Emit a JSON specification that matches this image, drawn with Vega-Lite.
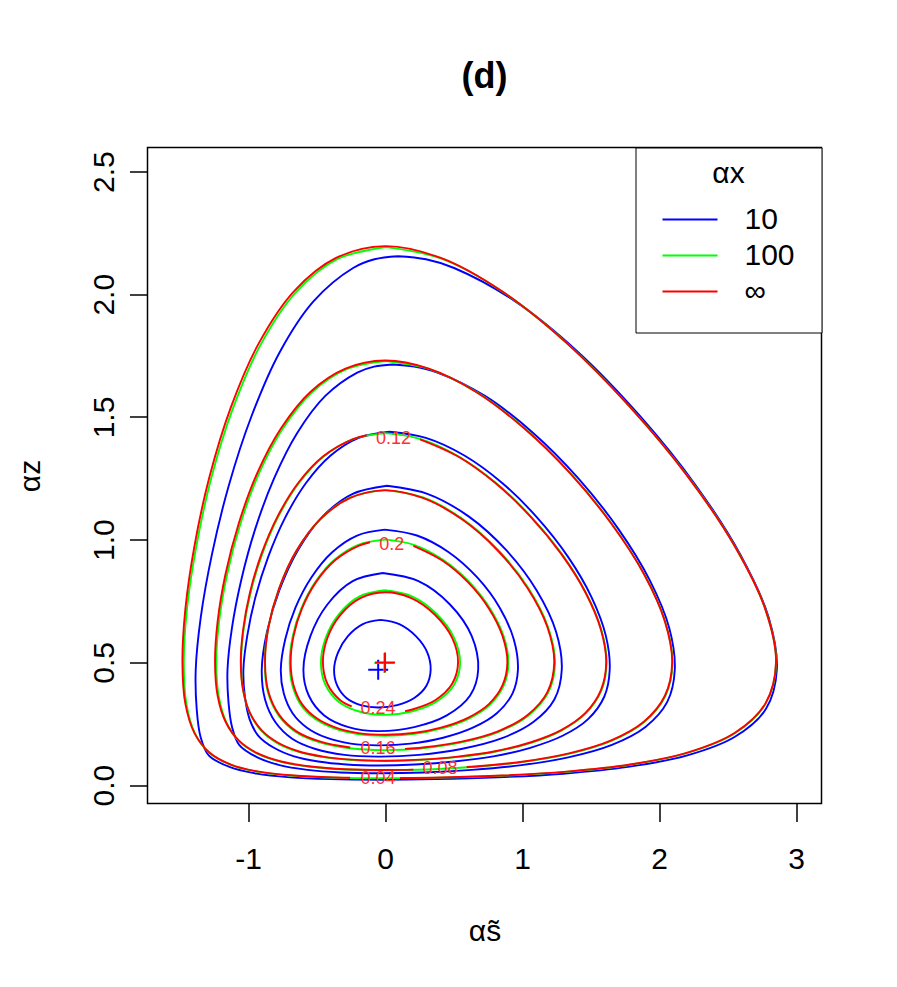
{
"$schema":"https://vega.github.io/schema/vega-lite/v6.json",
"width":674,"height":656,
"autosize":{"type":"none"},
"padding":{"left":147.5,"top":147.5,"right":75.5,"bottom":183.5},
"background":"white",
"title":{"text":"(d)","fontSize":36,"fontWeight":"bold","font":"Liberation Sans","anchor":"middle","baseline":"alphabetic","offset":23.5,"color":"black"},
"config":{
 "font":"Liberation Sans",
 "view":{"stroke":"black","strokeWidth":1.5},
 "axis":{"grid":false,"domain":false,"tickColor":"black","tickWidth":1.5,"tickSize":18,"labelFontSize":30,"labelColor":"black","titleFontSize":30,"titleFontWeight":"normal","titleColor":"black","labelFont":"Liberation Sans","titleFont":"Liberation Sans","labelOverlap":false,"labelFlush":false}
},
"datasets":{
"red":[
{"c":1,"i":0,"s":0.11,"z":0.0291},{"c":1,"i":1,"s":0.407,"z":0.0312},{"c":1,"i":2,"s":0.854,"z":0.0389},{"c":1,"i":3,"s":1.324,"z":0.0547},{"c":1,"i":4,"s":1.789,"z":0.0837},{"c":1,"i":5,"s":2.213,"z":0.133},{"c":1,"i":6,"s":2.554,"z":0.213},{"c":1,"i":7,"s":2.777,"z":0.333},{"c":1,"i":8,"s":2.854,"z":0.5},{"c":1,"i":9,"s":2.777,"z":0.715},{"c":1,"i":10,"s":2.554,"z":0.972},{"c":1,"i":11,"s":2.213,"z":1.255},{"c":1,"i":12,"s":1.789,"z":1.54},{"c":1,"i":13,"s":1.324,"z":1.802},{"c":1,"i":14,"s":0.854,"z":2.012},{"c":1,"i":15,"s":0.407,"z":2.148},{"c":1,"i":16,"s":0,"z":2.196},{"c":1,"i":17,"s":-0.358,"z":2.148},{"c":1,"i":18,"s":-0.665,"z":2.012},{"c":1,"i":19,"s":-0.92,"z":1.802},{"c":1,"i":20,"s":-1.125,"z":1.54},{"c":1,"i":21,"s":-1.282,"z":1.255},{"c":1,"i":22,"s":-1.392,"z":0.972},{"c":1,"i":23,"s":-1.458,"z":0.715},{"c":1,"i":24,"s":-1.479,"z":0.5},{"c":1,"i":25,"s":-1.458,"z":0.333},{"c":1,"i":26,"s":-1.392,"z":0.213},{"c":1,"i":27,"s":-1.282,"z":0.133},{"c":1,"i":28,"s":-1.125,"z":0.0837},{"c":1,"i":29,"s":-0.92,"z":0.0547},{"c":1,"i":30,"s":-0.665,"z":0.0389},{"c":1,"i":31,"s":-0.358,"z":0.0312},{"c":1,"i":32,"s":-0.255,"z":0.0302},
{"c":2,"i":0,"s":0.596,"z":0.0735},{"c":2,"i":1,"s":0.662,"z":0.076},{"c":2,"i":2,"s":1.013,"z":0.096},{"c":2,"i":3,"s":1.35,"z":0.13},{"c":2,"i":4,"s":1.651,"z":0.182},{"c":2,"i":5,"s":1.889,"z":0.258},{"c":2,"i":6,"s":2.043,"z":0.364},{"c":2,"i":7,"s":2.096,"z":0.5},{"c":2,"i":8,"s":2.043,"z":0.667},{"c":2,"i":9,"s":1.889,"z":0.861},{"c":2,"i":10,"s":1.651,"z":1.066},{"c":2,"i":11,"s":1.35,"z":1.271},{"c":2,"i":12,"s":1.013,"z":1.455},{"c":2,"i":13,"s":0.662,"z":1.603},{"c":2,"i":14,"s":0.319,"z":1.697},{"c":2,"i":15,"s":0,"z":1.73},{"c":2,"i":16,"s":-0.289,"z":1.697},{"c":2,"i":17,"s":-0.543,"z":1.603},{"c":2,"i":18,"s":-0.758,"z":1.455},{"c":2,"i":19,"s":-0.933,"z":1.271},{"c":2,"i":20,"s":-1.068,"z":1.066},{"c":2,"i":21,"s":-1.164,"z":0.861},{"c":2,"i":22,"s":-1.222,"z":0.667},{"c":2,"i":23,"s":-1.241,"z":0.5},{"c":2,"i":24,"s":-1.222,"z":0.364},{"c":2,"i":25,"s":-1.164,"z":0.258},{"c":2,"i":26,"s":-1.068,"z":0.182},{"c":2,"i":27,"s":-0.933,"z":0.13},{"c":2,"i":28,"s":-0.758,"z":0.096},{"c":2,"i":29,"s":-0.543,"z":0.076},{"c":2,"i":30,"s":-0.289,"z":0.0648},{"c":2,"i":31,"s":0,"z":0.0615},{"c":2,"i":32,"s":0.207,"z":0.0629},
{"c":3,"i":0,"s":0.255,"z":1.409},{"c":3,"i":1,"s":0.53,"z":1.34},{"c":3,"i":2,"s":0.803,"z":1.232},{"c":3,"i":3,"s":1.06,"z":1.095},{"c":3,"i":4,"s":1.286,"z":0.942},{"c":3,"i":5,"s":1.463,"z":0.785},{"c":3,"i":6,"s":1.576,"z":0.633},{"c":3,"i":7,"s":1.6145,"z":0.5},{"c":3,"i":8,"s":1.576,"z":0.387},{"c":3,"i":9,"s":1.463,"z":0.294},{"c":3,"i":10,"s":1.286,"z":0.224},{"c":3,"i":11,"s":1.06,"z":0.1735},{"c":3,"i":12,"s":0.803,"z":0.138},{"c":3,"i":13,"s":0.53,"z":0.116},{"c":3,"i":14,"s":0.256,"z":0.1036},{"c":3,"i":15,"s":0,"z":0.0995},{"c":3,"i":16,"s":-0.238,"z":0.1036},{"c":3,"i":17,"s":-0.451,"z":0.116},{"c":3,"i":18,"s":-0.633,"z":0.138},{"c":3,"i":19,"s":-0.784,"z":0.1735},{"c":3,"i":20,"s":-0.902,"z":0.224},{"c":3,"i":21,"s":-0.986,"z":0.294},{"c":3,"i":22,"s":-1.036,"z":0.387},{"c":3,"i":23,"s":-1.053,"z":0.5},{"c":3,"i":24,"s":-1.036,"z":0.633},{"c":3,"i":25,"s":-0.986,"z":0.785},{"c":3,"i":26,"s":-0.902,"z":0.942},{"c":3,"i":27,"s":-0.784,"z":1.095},{"c":3,"i":28,"s":-0.633,"z":1.232},{"c":3,"i":29,"s":-0.451,"z":1.34},{"c":3,"i":30,"s":-0.238,"z":1.409},{"c":3,"i":31,"s":-0.134,"z":1.4254},
{"c":4,"i":0,"s":0.146,"z":0.1476},{"c":4,"i":1,"s":0.275,"z":0.153},{"c":4,"i":2,"s":0.559,"z":0.177},{"c":4,"i":3,"s":0.824,"z":0.219},{"c":4,"i":4,"s":1.041,"z":0.286},{"c":4,"i":5,"s":1.185,"z":0.379},{"c":4,"i":6,"s":1.235,"z":0.5},{"c":4,"i":7,"s":1.185,"z":0.644},{"c":4,"i":8,"s":1.041,"z":0.802},{"c":4,"i":9,"s":0.824,"z":0.955},{"c":4,"i":10,"s":0.559,"z":1.084},{"c":4,"i":11,"s":0.275,"z":1.17},{"c":4,"i":12,"s":0,"z":1.201},{"c":4,"i":13,"s":-0.254,"z":1.17},{"c":4,"i":14,"s":-0.472,"z":1.084},{"c":4,"i":15,"s":-0.647,"z":0.955},{"c":4,"i":16,"s":-0.773,"z":0.802},{"c":4,"i":17,"s":-0.851,"z":0.644},{"c":4,"i":18,"s":-0.876,"z":0.5},{"c":4,"i":19,"s":-0.851,"z":0.379},{"c":4,"i":20,"s":-0.773,"z":0.286},{"c":4,"i":21,"s":-0.647,"z":0.219},{"c":4,"i":22,"s":-0.472,"z":0.177},{"c":4,"i":23,"s":-0.254,"z":0.153},
{"c":5,"i":0,"s":0.207,"z":0.975},{"c":5,"i":1,"s":0.415,"z":0.916},{"c":5,"i":2,"s":0.605,"z":0.827},{"c":5,"i":3,"s":0.758,"z":0.72},{"c":5,"i":4,"s":0.858,"z":0.607},{"c":5,"i":5,"s":0.893,"z":0.5},{"c":5,"i":6,"s":0.858,"z":0.407},{"c":5,"i":7,"s":0.758,"z":0.33},{"c":5,"i":8,"s":0.605,"z":0.274},{"c":5,"i":9,"s":0.415,"z":0.235},{"c":5,"i":10,"s":0.207,"z":0.212},{"c":5,"i":11,"s":0,"z":0.205},{"c":5,"i":12,"s":-0.194,"z":0.212},{"c":5,"i":13,"s":-0.365,"z":0.235},{"c":5,"i":14,"s":-0.504,"z":0.274},{"c":5,"i":15,"s":-0.606,"z":0.33},{"c":5,"i":16,"s":-0.668,"z":0.407},{"c":5,"i":17,"s":-0.689,"z":0.5},{"c":5,"i":18,"s":-0.668,"z":0.607},{"c":5,"i":19,"s":-0.606,"z":0.72},{"c":5,"i":20,"s":-0.504,"z":0.827},{"c":5,"i":21,"s":-0.365,"z":0.916},{"c":5,"i":22,"s":-0.194,"z":0.975},{"c":5,"i":23,"s":-0.109,"z":0.9894},
{"c":6,"i":0,"s":0.146,"z":0.3013},{"c":6,"i":1,"s":0.192,"z":0.307},{"c":6,"i":2,"s":0.366,"z":0.346},{"c":6,"i":3,"s":0.49,"z":0.413},{"c":6,"i":4,"s":0.533,"z":0.5},{"c":6,"i":5,"s":0.49,"z":0.5995},{"c":6,"i":6,"s":0.366,"z":0.693},{"c":6,"i":7,"s":0.192,"z":0.762},{"c":6,"i":8,"s":0,"z":0.786},{"c":6,"i":9,"s":-0.18,"z":0.762},{"c":6,"i":10,"s":-0.327,"z":0.693},{"c":6,"i":11,"s":-0.421,"z":0.5995},{"c":6,"i":12,"s":-0.4535,"z":0.5},{"c":6,"i":13,"s":-0.421,"z":0.413},{"c":6,"i":14,"s":-0.327,"z":0.346},{"c":6,"i":15,"s":-0.243,"z":0.321}
],
"blue":[
{"c":1,"i":0,"s":0.093,"z":2.155},{"c":1,"i":1,"s":-0.077,"z":2.1425},{"c":1,"i":2,"s":-0.233,"z":2.107},{"c":1,"i":3,"s":-0.521,"z":1.972},{"c":1,"i":4,"s":-0.769,"z":1.764},{"c":1,"i":5,"s":-0.975,"z":1.503},{"c":1,"i":6,"s":-1.141,"z":1.22},{"c":1,"i":7,"s":-1.264,"z":0.939},{"c":1,"i":8,"s":-1.345,"z":0.684},{"c":1,"i":9,"s":-1.382,"z":0.47},{"c":1,"i":10,"s":-1.375,"z":0.311},{"c":1,"i":11,"s":-1.347,"z":0.197},{"c":1,"i":12,"s":-1.287,"z":0.121},{"c":1,"i":13,"s":-1.136,"z":0.0741},{"c":1,"i":14,"s":-0.938,"z":0.0465},{"c":1,"i":15,"s":-0.692,"z":0.0315},{"c":1,"i":16,"s":-0.396,"z":0.0242},{"c":1,"i":17,"s":-0.05,"z":0.022},{"c":1,"i":18,"s":0.365,"z":0.0242},{"c":1,"i":19,"s":0.821,"z":0.0315},{"c":1,"i":20,"s":1.3,"z":0.0465},{"c":1,"i":21,"s":1.774,"z":0.0741},{"c":1,"i":22,"s":2.206,"z":0.121},{"c":1,"i":23,"s":2.554,"z":0.197},{"c":1,"i":24,"s":2.781,"z":0.311},{"c":1,"i":25,"s":2.86,"z":0.47},{"c":1,"i":26,"s":2.8,"z":0.684},{"c":1,"i":27,"s":2.594,"z":0.939},{"c":1,"i":28,"s":2.27,"z":1.22},{"c":1,"i":29,"s":1.862,"z":1.503},{"c":1,"i":30,"s":1.41,"z":1.764},{"c":1,"i":31,"s":0.948,"z":1.972},{"c":1,"i":32,"s":0.504,"z":2.107},{"c":1,"i":33,"s":0.299,"z":2.1425},{"c":1,"i":34,"s":0.093,"z":2.155},
{"c":2,"i":0,"s":0.056,"z":1.714},{"c":2,"i":1,"s":-0.08,"z":1.7053},{"c":2,"i":2,"s":-0.203,"z":1.681},{"c":2,"i":3,"s":-0.436,"z":1.586},{"c":2,"i":4,"s":-0.64,"z":1.436},{"c":2,"i":5,"s":-0.81,"z":1.25},{"c":2,"i":6,"s":-0.948,"z":1.043},{"c":2,"i":7,"s":-1.05,"z":0.835},{"c":2,"i":8,"s":-1.118,"z":0.639},{"c":2,"i":9,"s":-1.15,"z":0.47},{"c":2,"i":10,"s":-1.143,"z":0.339},{"c":2,"i":11,"s":-1.117,"z":0.237},{"c":2,"i":12,"s":-1.065,"z":0.164},{"c":2,"i":13,"s":-0.936,"z":0.114},{"c":2,"i":14,"s":-0.77,"z":0.0814},{"c":2,"i":15,"s":-0.566,"z":0.0621},{"c":2,"i":16,"s":-0.325,"z":0.0513},{"c":2,"i":17,"s":-0.05,"z":0.0482},{"c":2,"i":18,"s":0.28,"z":0.0513},{"c":2,"i":19,"s":0.634,"z":0.0621},{"c":2,"i":20,"s":0.996,"z":0.0814},{"c":2,"i":21,"s":1.345,"z":0.114},{"c":2,"i":22,"s":1.656,"z":0.164},{"c":2,"i":23,"s":1.901,"z":0.237},{"c":2,"i":24,"s":2.06,"z":0.339},{"c":2,"i":25,"s":2.115,"z":0.47},{"c":2,"i":26,"s":2.075,"z":0.639},{"c":2,"i":27,"s":1.932,"z":0.835},{"c":2,"i":28,"s":1.704,"z":1.043},{"c":2,"i":29,"s":1.411,"z":1.25},{"c":2,"i":30,"s":1.079,"z":1.436},{"c":2,"i":31,"s":0.729,"z":1.586},{"c":2,"i":32,"s":0.382,"z":1.681},{"c":2,"i":33,"s":0.213,"z":1.7053},{"c":2,"i":34,"s":0.056,"z":1.714},
{"c":3,"i":0,"s":0.033,"z":1.44},{"c":3,"i":1,"s":-0.192,"z":1.415},{"c":3,"i":2,"s":-0.397,"z":1.343},{"c":3,"i":3,"s":-0.577,"z":1.231},{"c":3,"i":4,"s":-0.73,"z":1.089},{"c":3,"i":5,"s":-0.853,"z":0.93},{"c":3,"i":6,"s":-0.946,"z":0.766},{"c":3,"i":7,"s":-1.006,"z":0.608},{"c":3,"i":8,"s":-1.034,"z":0.47},{"c":3,"i":9,"s":-1.023,"z":0.36},{"c":3,"i":10,"s":-0.989,"z":0.269},{"c":3,"i":11,"s":-0.925,"z":0.201},{"c":3,"i":12,"s":-0.811,"z":0.152},{"c":3,"i":13,"s":-0.664,"z":0.117},{"c":3,"i":14,"s":-0.488,"z":0.096},{"c":3,"i":15,"s":-0.281,"z":0.084},{"c":3,"i":16,"s":-0.05,"z":0.08},{"c":3,"i":17,"s":0.218,"z":0.084},{"c":3,"i":18,"s":0.505,"z":0.096},{"c":3,"i":19,"s":0.791,"z":0.117},{"c":3,"i":20,"s":1.06,"z":0.152},{"c":3,"i":21,"s":1.296,"z":0.201},{"c":3,"i":22,"s":1.482,"z":0.269},{"c":3,"i":23,"s":1.6,"z":0.36},{"c":3,"i":24,"s":1.64,"z":0.47},{"c":3,"i":25,"s":1.612,"z":0.608},{"c":3,"i":26,"s":1.507,"z":0.766},{"c":3,"i":27,"s":1.336,"z":0.93},{"c":3,"i":28,"s":1.112,"z":1.089},{"c":3,"i":29,"s":0.855,"z":1.231},{"c":3,"i":30,"s":0.579,"z":1.343},{"c":3,"i":31,"s":0.298,"z":1.415},{"c":3,"i":32,"s":0.033,"z":1.44},
{"c":4,"i":0,"s":0.014,"z":1.22},{"c":4,"i":1,"s":-0.236,"z":1.187},{"c":4,"i":2,"s":-0.455,"z":1.095},{"c":4,"i":3,"s":-0.636,"z":0.957},{"c":4,"i":4,"s":-0.772,"z":0.793},{"c":4,"i":5,"s":-0.862,"z":0.624},{"c":4,"i":6,"s":-0.9,"z":0.47},{"c":4,"i":7,"s":-0.876,"z":0.349},{"c":4,"i":8,"s":-0.8,"z":0.256},{"c":4,"i":9,"s":-0.678,"z":0.189},{"c":4,"i":10,"s":-0.508,"z":0.147},{"c":4,"i":11,"s":-0.296,"z":0.123},{"c":4,"i":12,"s":-0.05,"z":0.116},{"c":4,"i":13,"s":0.248,"z":0.123},{"c":4,"i":14,"s":0.557,"z":0.147},{"c":4,"i":15,"s":0.844,"z":0.189},{"c":4,"i":16,"s":1.08,"z":0.256},{"c":4,"i":17,"s":1.236,"z":0.349},{"c":4,"i":18,"s":1.29,"z":0.47},{"c":4,"i":19,"s":1.249,"z":0.624},{"c":4,"i":20,"s":1.107,"z":0.793},{"c":4,"i":21,"s":0.885,"z":0.957},{"c":4,"i":22,"s":0.61,"z":1.095},{"c":4,"i":23,"s":0.309,"z":1.187},{"c":4,"i":24,"s":0.014,"z":1.22},
{"c":5,"i":0,"s":-0.002,"z":1.041},{"c":5,"i":1,"s":-0.204,"z":1.017},{"c":5,"i":2,"s":-0.386,"z":0.949},{"c":5,"i":3,"s":-0.538,"z":0.846},{"c":5,"i":4,"s":-0.654,"z":0.723},{"c":5,"i":5,"s":-0.729,"z":0.593},{"c":5,"i":6,"s":-0.761,"z":0.47},{"c":5,"i":7,"s":-0.739,"z":0.373},{"c":5,"i":8,"s":-0.675,"z":0.293},{"c":5,"i":9,"s":-0.57,"z":0.234},{"c":5,"i":10,"s":-0.427,"z":0.193},{"c":5,"i":11,"s":-0.25,"z":0.169},{"c":5,"i":12,"s":-0.05,"z":0.162},{"c":5,"i":13,"s":0.186,"z":0.169},{"c":5,"i":14,"s":0.424,"z":0.193},{"c":5,"i":15,"s":0.641,"z":0.234},{"c":5,"i":16,"s":0.816,"z":0.293},{"c":5,"i":17,"s":0.93,"z":0.373},{"c":5,"i":18,"s":0.97,"z":0.47},{"c":5,"i":19,"s":0.94,"z":0.593},{"c":5,"i":20,"s":0.837,"z":0.723},{"c":5,"i":21,"s":0.673,"z":0.846},{"c":5,"i":22,"s":0.465,"z":0.949},{"c":5,"i":23,"s":0.233,"z":1.017},{"c":5,"i":24,"s":-0.002,"z":1.041},
{"c":6,"i":0,"s":-0.017,"z":0.864},{"c":6,"i":1,"s":-0.236,"z":0.831},{"c":6,"i":2,"s":-0.421,"z":0.736},{"c":6,"i":3,"s":-0.545,"z":0.607},{"c":6,"i":4,"s":-0.596,"z":0.47},{"c":6,"i":5,"s":-0.557,"z":0.365},{"c":6,"i":6,"s":-0.444,"z":0.284},{"c":6,"i":7,"s":-0.267,"z":0.2365},{"c":6,"i":8,"s":-0.05,"z":0.22},{"c":6,"i":9,"s":0.213,"z":0.2365},{"c":6,"i":10,"s":0.451,"z":0.284},{"c":6,"i":11,"s":0.621,"z":0.365},{"c":6,"i":12,"s":0.68,"z":0.47},{"c":6,"i":13,"s":0.633,"z":0.607},{"c":6,"i":14,"s":0.474,"z":0.736},{"c":6,"i":15,"s":0.244,"z":0.831},{"c":6,"i":16,"s":-0.017,"z":0.864},
{"c":7,"i":0,"s":-0.033,"z":0.673},{"c":7,"i":1,"s":-0.162,"z":0.656},{"c":7,"i":2,"s":-0.271,"z":0.607},{"c":7,"i":3,"s":-0.343,"z":0.541},{"c":7,"i":4,"s":-0.372,"z":0.47},{"c":7,"i":5,"s":-0.349,"z":0.405},{"c":7,"i":6,"s":-0.282,"z":0.355},{"c":7,"i":7,"s":-0.178,"z":0.326},{"c":7,"i":8,"s":-0.05,"z":0.316},{"c":7,"i":9,"s":0.088,"z":0.326},{"c":7,"i":10,"s":0.213,"z":0.355},{"c":7,"i":11,"s":0.302,"z":0.405},{"c":7,"i":12,"s":0.333,"z":0.47},{"c":7,"i":13,"s":0.308,"z":0.541},{"c":7,"i":14,"s":0.225,"z":0.607},{"c":7,"i":15,"s":0.104,"z":0.656},{"c":7,"i":16,"s":-0.033,"z":0.673}
],
"green":[
{"c":1,"i":0,"s":0.009,"z":2.192},{"c":1,"i":1,"s":-0.346,"z":2.144},{"c":1,"i":2,"s":-0.651,"z":2.008},{"c":1,"i":3,"s":-0.905,"z":1.798},{"c":1,"i":4,"s":-1.11,"z":1.536},{"c":1,"i":5,"s":-1.268,"z":1.252},{"c":1,"i":6,"s":-1.379,"z":0.969},{"c":1,"i":7,"s":-1.447,"z":0.712},{"c":1,"i":8,"s":-1.469,"z":0.497},{"c":1,"i":9,"s":-1.45,"z":0.331},{"c":1,"i":10,"s":-1.388,"z":0.211},{"c":1,"i":11,"s":-1.283,"z":0.132},{"c":1,"i":12,"s":-1.126,"z":0.0827},{"c":1,"i":13,"s":-0.922,"z":0.0539},{"c":1,"i":14,"s":-0.668,"z":0.0382},{"c":1,"i":15,"s":-0.362,"z":0.0305},{"c":1,"i":16,"s":-0.005,"z":0.0282},{"c":1,"i":17,"s":0.403,"z":0.0305},{"c":1,"i":18,"s":0.851,"z":0.0382},{"c":1,"i":19,"s":1.322,"z":0.0539},{"c":1,"i":20,"s":1.788,"z":0.0827},{"c":1,"i":21,"s":2.212,"z":0.132},{"c":1,"i":22,"s":2.554,"z":0.211},{"c":1,"i":23,"s":2.777,"z":0.331},{"c":1,"i":24,"s":2.855,"z":0.497},{"c":1,"i":25,"s":2.779,"z":0.712},{"c":1,"i":26,"s":2.558,"z":0.969},{"c":1,"i":27,"s":2.219,"z":1.252},{"c":1,"i":28,"s":1.796,"z":1.536},{"c":1,"i":29,"s":1.333,"z":1.798},{"c":1,"i":30,"s":0.863,"z":2.008},{"c":1,"i":31,"s":0.417,"z":2.144},{"c":1,"i":32,"s":0.009,"z":2.192},
{"c":2,"i":0,"s":0.006,"z":1.728},{"c":2,"i":1,"s":-0.28,"z":1.695},{"c":2,"i":2,"s":-0.532,"z":1.601},{"c":2,"i":3,"s":-0.746,"z":1.453},{"c":2,"i":4,"s":-0.921,"z":1.269},{"c":2,"i":5,"s":-1.056,"z":1.064},{"c":2,"i":6,"s":-1.153,"z":0.858},{"c":2,"i":7,"s":-1.212,"z":0.664},{"c":2,"i":8,"s":-1.232,"z":0.497},{"c":2,"i":9,"s":-1.214,"z":0.362},{"c":2,"i":10,"s":-1.159,"z":0.256},{"c":2,"i":11,"s":-1.068,"z":0.18},{"c":2,"i":12,"s":-0.933,"z":0.128},{"c":2,"i":13,"s":-0.759,"z":0.0945},{"c":2,"i":14,"s":-0.545,"z":0.0746},{"c":2,"i":15,"s":-0.293,"z":0.0635},{"c":2,"i":16,"s":-0.005,"z":0.0602},{"c":2,"i":17,"s":0.315,"z":0.0635},{"c":2,"i":18,"s":0.659,"z":0.0746},{"c":2,"i":19,"s":1.011,"z":0.0945},{"c":2,"i":20,"s":1.35,"z":0.128},{"c":2,"i":21,"s":1.652,"z":0.18},{"c":2,"i":22,"s":1.89,"z":0.256},{"c":2,"i":23,"s":2.045,"z":0.362},{"c":2,"i":24,"s":2.098,"z":0.497},{"c":2,"i":25,"s":2.046,"z":0.664},{"c":2,"i":26,"s":1.893,"z":0.858},{"c":2,"i":27,"s":1.656,"z":1.064},{"c":2,"i":28,"s":1.356,"z":1.269},{"c":2,"i":29,"s":1.02,"z":1.453},{"c":2,"i":30,"s":0.669,"z":1.601},{"c":2,"i":31,"s":0.325,"z":1.695},{"c":2,"i":32,"s":0.006,"z":1.728},
{"c":3,"i":0,"s":0.003,"z":1.434},{"c":3,"i":1,"s":-0.233,"z":1.41},{"c":3,"i":2,"s":-0.446,"z":1.34},{"c":3,"i":3,"s":-0.627,"z":1.232},{"c":3,"i":4,"s":-0.779,"z":1.094},{"c":3,"i":5,"s":-0.897,"z":0.941},{"c":3,"i":6,"s":-0.982,"z":0.783},{"c":3,"i":7,"s":-1.033,"z":0.631},{"c":3,"i":8,"s":-1.051,"z":0.497},{"c":3,"i":9,"s":-1.035,"z":0.384},{"c":3,"i":10,"s":-0.986,"z":0.292},{"c":3,"i":11,"s":-0.904,"z":0.222},{"c":3,"i":12,"s":-0.787,"z":0.171},{"c":3,"i":13,"s":-0.636,"z":0.136},{"c":3,"i":14,"s":-0.455,"z":0.114},{"c":3,"i":15,"s":-0.242,"z":0.102},{"c":3,"i":16,"s":-0.005,"z":0.0975},{"c":3,"i":17,"s":0.252,"z":0.102},{"c":3,"i":18,"s":0.528,"z":0.114},{"c":3,"i":19,"s":0.802,"z":0.136},{"c":3,"i":20,"s":1.06,"z":0.171},{"c":3,"i":21,"s":1.287,"z":0.222},{"c":3,"i":22,"s":1.465,"z":0.292},{"c":3,"i":23,"s":1.578,"z":0.384},{"c":3,"i":24,"s":1.617,"z":0.497},{"c":3,"i":25,"s":1.58,"z":0.631},{"c":3,"i":26,"s":1.467,"z":0.783},{"c":3,"i":27,"s":1.291,"z":0.941},{"c":3,"i":28,"s":1.065,"z":1.094},{"c":3,"i":29,"s":0.808,"z":1.232},{"c":3,"i":30,"s":0.535,"z":1.34},{"c":3,"i":31,"s":0.26,"z":1.41},{"c":3,"i":32,"s":0.003,"z":1.434},
{"c":4,"i":0,"s":0.001,"z":1.203},{"c":4,"i":1,"s":-0.252,"z":1.172},{"c":4,"i":2,"s":-0.47,"z":1.085},{"c":4,"i":3,"s":-0.646,"z":0.955},{"c":4,"i":4,"s":-0.773,"z":0.801},{"c":4,"i":5,"s":-0.852,"z":0.642},{"c":4,"i":6,"s":-0.878,"z":0.497},{"c":4,"i":7,"s":-0.854,"z":0.376},{"c":4,"i":8,"s":-0.776,"z":0.283},{"c":4,"i":9,"s":-0.65,"z":0.216},{"c":4,"i":10,"s":-0.476,"z":0.174},{"c":4,"i":11,"s":-0.258,"z":0.15},{"c":4,"i":12,"s":-0.005,"z":0.1425},{"c":4,"i":13,"s":0.272,"z":0.15},{"c":4,"i":14,"s":0.559,"z":0.174},{"c":4,"i":15,"s":0.826,"z":0.216},{"c":4,"i":16,"s":1.045,"z":0.283},{"c":4,"i":17,"s":1.19,"z":0.376},{"c":4,"i":18,"s":1.241,"z":0.497},{"c":4,"i":19,"s":1.191,"z":0.642},{"c":4,"i":20,"s":1.048,"z":0.801},{"c":4,"i":21,"s":0.83,"z":0.955},{"c":4,"i":22,"s":0.564,"z":1.085},{"c":4,"i":23,"s":0.278,"z":1.172},{"c":4,"i":24,"s":0.001,"z":1.203},
{"c":5,"i":0,"s":0,"z":1.001},{"c":5,"i":1,"s":-0.195,"z":0.979},{"c":5,"i":2,"s":-0.367,"z":0.919},{"c":5,"i":3,"s":-0.507,"z":0.829},{"c":5,"i":4,"s":-0.611,"z":0.72},{"c":5,"i":5,"s":-0.674,"z":0.606},{"c":5,"i":6,"s":-0.696,"z":0.497},{"c":5,"i":7,"s":-0.675,"z":0.404},{"c":5,"i":8,"s":-0.613,"z":0.326},{"c":5,"i":9,"s":-0.511,"z":0.27},{"c":5,"i":10,"s":-0.371,"z":0.231},{"c":5,"i":11,"s":-0.2,"z":0.208},{"c":5,"i":12,"s":-0.005,"z":0.201},{"c":5,"i":13,"s":0.205,"z":0.208},{"c":5,"i":14,"s":0.416,"z":0.231},{"c":5,"i":15,"s":0.609,"z":0.27},{"c":5,"i":16,"s":0.764,"z":0.326},{"c":5,"i":17,"s":0.865,"z":0.404},{"c":5,"i":18,"s":0.901,"z":0.497},{"c":5,"i":19,"s":0.866,"z":0.606},{"c":5,"i":20,"s":0.766,"z":0.72},{"c":5,"i":21,"s":0.612,"z":0.829},{"c":5,"i":22,"s":0.42,"z":0.919},{"c":5,"i":23,"s":0.21,"z":0.979},{"c":5,"i":24,"s":0,"z":1.001},
{"c":6,"i":0,"s":-0.002,"z":0.794},{"c":6,"i":1,"s":-0.186,"z":0.769},{"c":6,"i":2,"s":-0.336,"z":0.697},{"c":6,"i":3,"s":-0.433,"z":0.6},{"c":6,"i":4,"s":-0.468,"z":0.497},{"c":6,"i":5,"s":-0.435,"z":0.408},{"c":6,"i":6,"s":-0.339,"z":0.34},{"c":6,"i":7,"s":-0.189,"z":0.3},{"c":6,"i":8,"s":-0.005,"z":0.286},{"c":6,"i":9,"s":0.194,"z":0.3},{"c":6,"i":10,"s":0.375,"z":0.34},{"c":6,"i":11,"s":0.503,"z":0.408},{"c":6,"i":12,"s":0.548,"z":0.497},{"c":6,"i":13,"s":0.504,"z":0.6},{"c":6,"i":14,"s":0.377,"z":0.697},{"c":6,"i":15,"s":0.197,"z":0.769},{"c":6,"i":16,"s":-0.002,"z":0.794}
],
"plus":[{"g":"10","s":-0.05,"z":0.47},{"g":"100","s":-0.005,"z":0.497},{"g":"∞","s":0,"z":0.5}],
"labs":[{"t":"0.04","s":-0.051,"z":0.025},{"t":"0.08","s":0.401,"z":0.064},{"t":"0.12","s":0.061,"z":1.409},{"t":"0.16","s":-0.051,"z":0.146},{"t":"0.2","s":0.049,"z":0.978},{"t":"0.24","s":-0.051,"z":0.309}]
},
"encoding":{
 "x":{"field":"s","type":"quantitative","scale":{"domain":[-1.734,3.186],"nice":false,"zero":false},
  "axis":{"values":[-1,0,1,2,3],"labelExpr":"'' + datum.value","labelBaseline":"alphabetic","labelPadding":46.5,"title":"αs̃","titleBaseline":"alphabetic","titleY":136.5}},
 "y":{"field":"z","type":"quantitative","scale":{"domain":[-0.075,2.598],"nice":false,"zero":false},
  "axis":{"values":[0,0.5,1,1.5,2,2.5],"format":".1f","labelAngle":-90,"labelAlign":"center","labelBaseline":"alphabetic","labelPadding":16,"title":"αz","titleAngle":-90,"titleBaseline":"alphabetic","titleX":-108,"titleAlign":"center"}}
},
"layer":[
 {"data":{"name":"blue"},"mark":{"type":"line","interpolate":"catmull-rom","strokeWidth":1.9},
  "encoding":{"detail":{"field":"c","type":"nominal"},"order":{"field":"i","type":"quantitative"},
   "color":{"datum":"10","type":"nominal","scale":{"domain":["10","100","∞"],"range":["#0000ff","#00ff00","#ff0000"]},
    "legend":{"title":"αx","orient":"top-right","offset":0,"symbolType":"stroke","symbolSize":3025,"symbolStrokeWidth":1.9,"clipHeight":30,"labelFontSize":30,"titleFontSize":30,"titleFontWeight":"normal","titleAnchor":"middle","titleAlign":"center","titleBaseline":"middle","padding":26,"titlePadding":1,"rowPadding":6,"labelOffset":26,"strokeColor":"black","fillColor":"white","cornerRadius":0,"labelColor":"black","titleColor":"black"}}}},
 {"data":{"name":"green"},"mark":{"type":"line","interpolate":"catmull-rom","strokeWidth":1.9},
  "encoding":{"detail":{"field":"c","type":"nominal"},"order":{"field":"i","type":"quantitative"},"color":{"datum":"100","type":"nominal"}}},
 {"data":{"name":"red"},"mark":{"type":"line","interpolate":"catmull-rom","strokeWidth":1.9},
  "encoding":{"detail":{"field":"c","type":"nominal"},"order":{"field":"i","type":"quantitative"},"color":{"datum":"∞","type":"nominal"}}},
 {"data":{"name":"labs"},"mark":{"type":"text","fontSize":18,"color":"#ff3030","align":"center","baseline":"middle","font":"Liberation Sans"},
  "encoding":{"text":{"field":"t","type":"nominal"}}},
 {"data":{"name":"plus"},"mark":{"type":"point","shape":"M-1,0H1M0,-1V1","size":400,"strokeWidth":2,"filled":false,"opacity":1},
  "encoding":{"stroke":{"field":"g","type":"nominal","scale":{"domain":["10","100","∞"],"range":["#0000ff","#00ff00","#ff0000"]},"legend":null}}}
]
}
